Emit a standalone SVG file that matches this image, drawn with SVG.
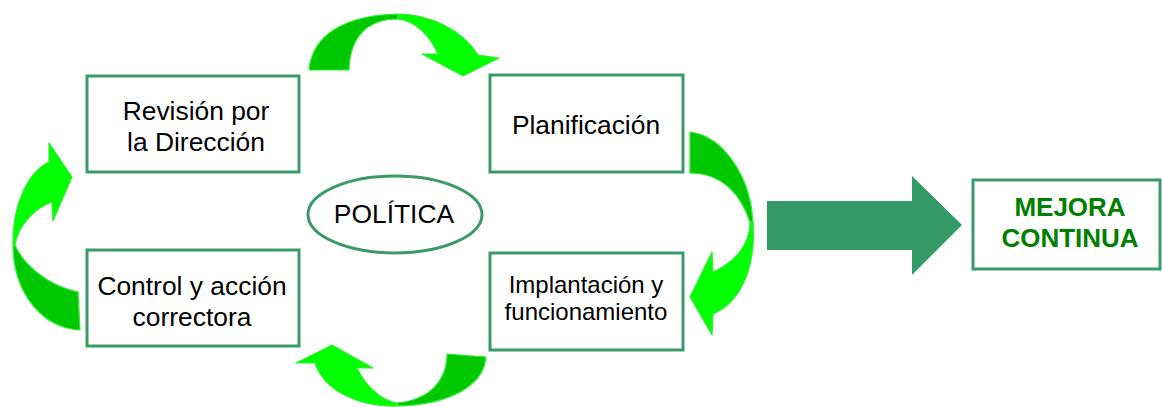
<svg xmlns="http://www.w3.org/2000/svg" width="1162" height="407" viewBox="0 0 1162 407">
<style>
.box{fill:#fff;stroke:#3a9a6a;stroke-width:3}
.t{font-family:"Liberation Sans",Arial,sans-serif;fill:#000;text-anchor:middle}
.dark{fill:#00c800;stroke:#33ee33;stroke-width:1.2;stroke-linejoin:round}
.bright{fill:#00ff00;stroke:#33ee33;stroke-width:1.2;stroke-linejoin:round}
.m{font-size:26px;font-weight:bold;fill:#008000}
</style>
<rect width="1162" height="407" fill="#fff"/>
<g id="connectors">
  <g id="arrow-top">
    <path class="dark" d="M309,70 C312,35 345,15 398,14 L398,19 C368,19 350,36 349,70 Z"/>
    <path class="bright" d="M398,14 C430,14 462,30 478,55 L499,58 L463,76 L422,54 L438,54 C430,36 416,21 398,19 Z"/>
  </g>
  <g id="arrow-right">
    <path class="dark" d="M690,132 C725,136 752,180 753,225 L750,223 C742,195 722,173 690,173 Z"/>
    <path class="bright" d="M753,222 C756,260 745,300 713,314 L712,335 L690,297 L712,252 L713,272 C735,262 750,245 750,222 Z"/>
  </g>
  <g id="arrow-bottom">
    <path class="dark" d="M486,357 C484,385 450,405 397,406 L397,403 C430,400 447,380 447,354 Z"/>
    <path class="bright" d="M397,406 C360,407 325,392 315,363 L296,363 L332,345 L373,368 L357,368 C365,385 380,400 397,403 Z"/>
  </g>
  <g id="arrow-left">
    <path class="dark" d="M80,330 C40,328 13,290 13,245 L15,245 C22,262 45,285 78,292 Z"/>
    <path class="bright" d="M13,245 C12,205 28,172 49,162 L49,143 L72,177 L53,221 L52,202 C35,208 18,225 15,245 Z"/>
  </g>
  <path id="arrow-big" d="M767,201 L912,201 L912,176 L962,225 L912,275 L912,250 L767,250 Z" fill="#339966"/>
</g>
<g id="node-revision">
  <rect class="box" x="87" y="76" width="212" height="96"/>
  <text class="t" x="196" y="120" font-size="26.4">Revisión por</text>
  <text class="t" x="196" y="151" font-size="26.4">la Dirección</text>
</g>
<g id="node-planificacion">
  <rect class="box" x="490" y="75" width="193" height="97"/>
  <text class="t" x="586" y="134" font-size="26.4">Planificación</text>
</g>
<g id="node-implantacion">
  <rect class="box" x="490" y="253" width="193" height="97"/>
  <text class="t" x="586" y="293" font-size="24">Implantación y</text>
  <text class="t" x="586" y="320" font-size="24">funcionamiento</text>
</g>
<g id="node-control">
  <rect class="box" x="87" y="250" width="212" height="96"/>
  <text class="t" x="192" y="295" font-size="26.4">Control y acción</text>
  <text class="t" x="192" y="326" font-size="26.4">correctora</text>
</g>
<g id="node-politica">
  <ellipse cx="395" cy="214.5" rx="87" ry="38.5" fill="#fff" stroke="#3a9a6a" stroke-width="3"/>
  <text class="t" x="394" y="223" font-size="26.4">POLÍTICA</text>
</g>
<g id="node-mejora">
  <rect class="box" x="973" y="180" width="187" height="89"/>
  <text class="t m" x="1070" y="216">MEJORA</text>
  <text class="t m" x="1070" y="247">CONTINUA</text>
</g>
</svg>
